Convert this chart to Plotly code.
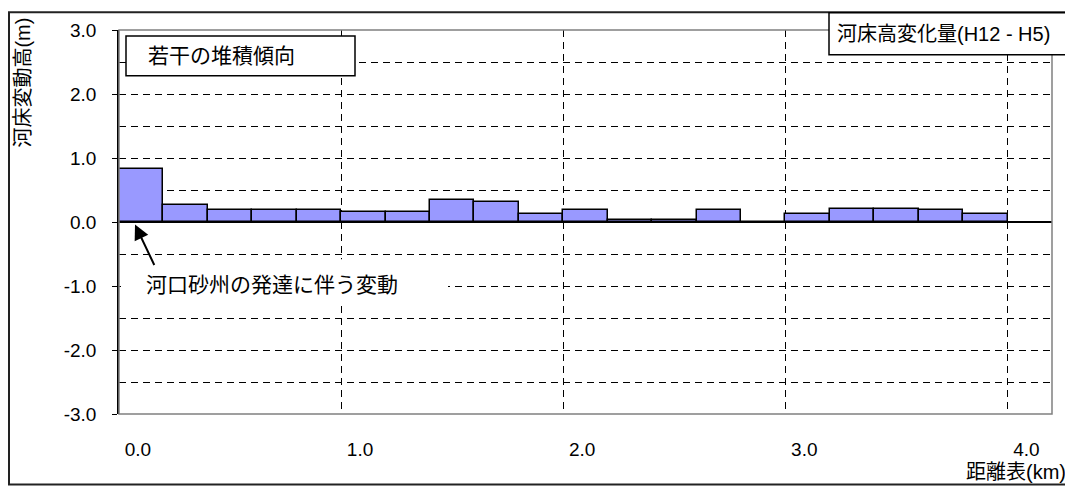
import plotly.graph_objects as go

# 距離表 (km) - start of each 0.2 km section
kp = [0.0, 0.2, 0.4, 0.6, 0.8, 1.0, 1.2, 1.4, 1.6, 1.8,
      2.0, 2.2, 2.4, 2.6, 2.8, 3.0, 3.2, 3.4, 3.6, 3.8]
# 河床変動高 (m), H12-H5
dz = [0.83, 0.27, 0.18, 0.18, 0.18, 0.15, 0.15, 0.34, 0.31, 0.12,
      0.18, 0.03, 0.03, 0.18, 0.0, 0.12, 0.21, 0.21, 0.18, 0.12]

x_tick_pos = [0, 1, 2, 3, 4]
x_tick_labels = ["0.0", "1.0", "2.0", "3.0", "4.0"]
y_tick_pos = [-3, -2, -1, 0, 1, 2, 3]
y_tick_labels = ["-3.0", "-2.0", "-1.0", "0.0", "1.0", "2.0", "3.0"]

FONT = "Liberation Sans, Arial, Noto Sans CJK JP, sans-serif"
OFF = 8  # page body margin
W, H = 1073 - OFF, 487 - OFF
L, R, T, B = 119 - OFF, 21, 27 - OFF, 73
PW, PH = W - L - R, H - T - B


def px(x):
    return (x - OFF - L) / PW


def py(y):
    return (H - B - (y - OFF)) / PH


fig = go.Figure()
fig.add_trace(go.Bar(
    x=kp, y=dz, width=0.2, offset=0,
    marker=dict(color="#9999FF", line=dict(color="black", width=1.5)),
    showlegend=False,
))

fig.update_layout(
    width=W, height=H,
    margin=dict(l=L, r=R, t=T, b=B),
    paper_bgcolor="white", plot_bgcolor="white",
    font=dict(family=FONT, size=19, color="black"),
    bargap=0,
)

fig.update_xaxes(
    range=[0, 4.2],
    tickvals=[v + 0.085 for v in x_tick_pos], ticktext=x_tick_labels,
    ticks="", showgrid=False, ticklabelstandoff=22,
    showline=False, zeroline=False,
    minor=dict(tickvals=x_tick_pos[1:], showgrid=True, gridcolor="black",
               griddash="7px,5px", gridwidth=1, ticks=""),
)
fig.update_yaxes(
    range=[-3, 3], tickvals=y_tick_pos, ticktext=y_tick_labels,
    ticks="outside", ticklen=5, tickcolor="black",
    ticklabelstandoff=12,
    showgrid=True, gridcolor="black", griddash="7px,5px", gridwidth=1,
    zeroline=True, zerolinecolor="black", zerolinewidth=1.5,
    showline=True, linecolor="black", linewidth=1.5,
    minor=dict(dtick=0.5, showgrid=True, gridcolor="black",
               griddash="7px,5px", gridwidth=1, ticks=""),
)

shapes = [
    # outer frame
    dict(type="rect", xref="paper", yref="paper",
         x0=px(9), x1=px(1070), y0=py(485), y1=py(9),
         line=dict(color="#222222", width=2), layer="above"),
    # plot frame
    dict(type="rect", xref="paper", yref="paper",
         x0=0, x1=1, y0=0, y1=1,
         line=dict(color="#808080", width=1.5), layer="above"),
    # note box
    dict(type="rect", xref="paper", yref="paper",
         x0=px(126), x1=px(355), y0=py(73), y1=py(33),
         line=dict(color="black", width=1.5), fillcolor="white", layer="above"),
    # title box
    dict(type="rect", xref="paper", yref="paper",
         x0=px(829), x1=px(1070), y0=py(52), y1=py(9.5),
         line=dict(color="black", width=1.5), fillcolor="white", layer="above"),
    # white background behind the callout text
    dict(type="rect", xref="paper", yref="paper",
         x0=px(121), x1=px(448), y0=py(304), y1=py(258),
         line=dict(width=0), fillcolor="white", layer="above"),
]
fig.update_layout(shapes=shapes)

annotations = [
    dict(text="若干の堆積傾向", xref="paper", yref="paper",
         x=px(146), y=py(53), xanchor="left", yanchor="middle",
         showarrow=False, font=dict(size=21)),
    dict(text="河床高変化量(H12 - H5)", xref="paper", yref="paper",
         x=px(835), y=py(31), xanchor="left", yanchor="middle",
         showarrow=False, font=dict(size=20)),
    dict(text="河口砂州の発達に伴う変動", xref="paper", yref="paper",
         x=px(144), y=py(283), xanchor="left", yanchor="middle",
         showarrow=False, font=dict(size=21)),
    dict(text="", xref="paper", yref="paper",
         x=px(135), y=py(223), ax=20, ay=42,
         showarrow=True, arrowhead=2, arrowsize=1.5, arrowwidth=2,
         arrowcolor="black", standoff=0),
    dict(text="河床変動高(m)", xref="paper", yref="paper",
         x=px(23), y=py(80), xanchor="center", yanchor="middle",
         textangle=-90, showarrow=False, font=dict(size=20)),
    dict(text="距離表(km)", xref="paper", yref="paper",
         x=px(1068), y=py(472), xanchor="right", yanchor="middle",
         showarrow=False, font=dict(size=20)),
]
fig.update_layout(annotations=annotations)

fig.write_html("out.html")
